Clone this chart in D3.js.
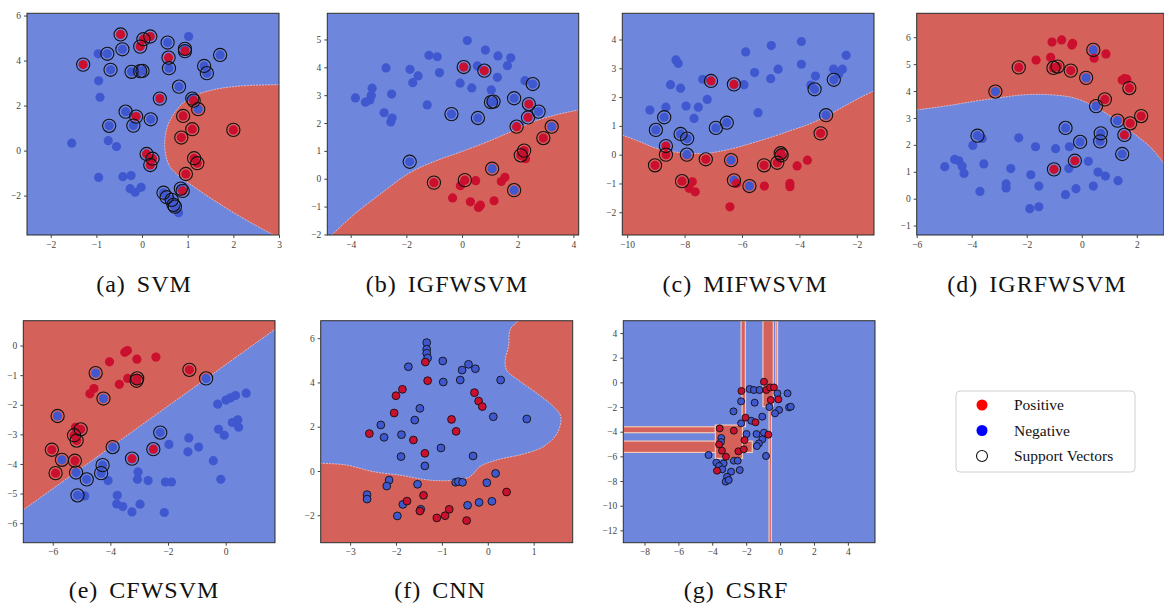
<!DOCTYPE html>
<html lang="en">
<head>
<meta charset="UTF-8">
<script src="https://d3js.org/d3.v7.min.js"></script>
<style>
  body { margin: 0; background: #fff; }
  svg { display: block; }
  .tick text { font-family: "Liberation Serif", serif; font-size: 9.5px; fill: #444; }
  .tick line { stroke: #444; }
  .caption { font-family: "Liberation Serif", serif; font-size: 24px; letter-spacing: 1px; word-spacing: 4px; fill: #111; }
  .legend text { font-family: "Liberation Serif", serif; font-size: 15.5px; fill: #111; }
</style>
</head>
<body>
<svg id="fig" width="1164" height="606"></svg>
<script>
// ---- data: [x, y, isSupportVector] ----
const aPos = [[-0.47,5.16,1],[0.03,4.95,1],[0.18,5.07,1],[-0.04,4.62,1],[0.94,4.42,1],[0.58,4.13,1],[-1.29,3.82,1],[0.39,2.31,1],[1.13,2.22,1],[-0.13,1.51,1],[0.9,1.54,1],[1.1,0.95,1],[2.0,0.92,1],[0.86,0.58,1],[0.1,-0.15,1],[0.23,-0.36,1],[0.18,-0.64,1],[1.14,-0.34,1],[1.21,-0.56,1],[0.96,-1.04,1],[0.89,-1.79,1]];
const aNeg = [[1.02,5.07,0],[0.56,4.8,1],[0.94,4.52,1],[-0.43,4.5,1],[-0.96,4.3,0],[-0.76,4.3,1],[1.71,4.25,1],[-0.69,3.59,1],[-0.23,3.5,1],[-0.04,3.53,1],[0.01,3.54,1],[0.59,3.66,1],[1.36,3.76,1],[1.42,3.44,1],[-0.95,3.1,0],[-0.92,2.37,0],[0.81,2.84,1],[1.1,2.31,1],[1.23,1.84,1],[-0.36,1.73,1],[0.19,1.39,1],[-0.72,1.1,1],[-0.19,1.11,1],[-1.54,0.33,0],[-0.74,0.44,0],[-0.56,0.18,0],[-0.95,-1.19,0],[-0.42,-1.16,0],[-0.24,-1.11,0],[-0.26,-1.69,0],[-0.15,-1.85,0],[-0.02,-1.63,0],[0.85,-1.69,1],[0.47,-1.87,1],[0.54,-2.07,1],[0.65,-2.19,1],[0.69,-2.41,1],[0.72,-2.49,1],[0.8,-2.76,0]];
const aEdge = [[3.0,2.93],[2.15,2.87],[1.56,2.7],[1.05,2.35],[0.76,1.81],[0.58,1.2],[0.5,0.5],[0.52,-0.2],[0.61,-0.71],[0.82,-1.15],[1.13,-1.6],[1.56,-2.19],[2.15,-2.93],[2.81,-3.67],[2.9,-3.75],[3.0,-3.75]];

const bPos = [[0.06,4.01,1],[0.8,3.88,1],[2.4,2.68,1],[2.37,2.2,1],[1.96,1.87,1],[2.92,1.46,1],[2.23,1.01,1],[2.11,0.84,1],[-1.01,-0.14,1],[0.1,-0.05,1],[2.28,0.72,0],[1.54,0.05,0],[1.41,-0.1,0],[0.49,-0.07,0],[-0.06,-0.25,0],[-0.34,-0.69,0],[0.3,-0.83,0],[0.66,-0.95,0],[0.59,-1.03,0],[1.15,-0.79,0]];
const bNeg = [[0.19,4.96,0],[0.84,4.62,0],[-1.19,4.43,0],[-0.89,4.38,0],[1.29,4.41,0],[1.75,4.34,0],[-2.73,3.98,0],[-1.87,3.93,0],[-0.81,3.81,0],[0.55,4.05,0],[1.63,4.06,0],[-1.58,3.69,0],[1.27,3.64,0],[2.26,3.52,0],[-1.77,3.45,0],[-0.07,3.43,0],[0.35,3.26,0],[-3.23,3.25,0],[-2.53,3.04,0],[1.05,3.19,0],[-3.83,2.9,0],[-3.26,2.99,0],[-3.31,2.83,0],[-3.47,2.75,0],[-1.25,2.65,0],[-2.8,2.37,0],[-2.51,2.18,0],[-2.56,2.04,0],[2.54,3.4,1],[1.87,2.89,1],[1.04,2.75,1],[1.13,2.77,1],[2.75,2.41,1],[-0.38,2.32,1],[0.57,2.18,1],[3.22,1.87,1],[-1.88,0.61,1],[1.08,0.36,1],[1.87,-0.41,1]];
const bEdge = [[-4.68,-2.02],[-3.9,-1.3],[-3.0,-0.6],[-1.9,0.2],[-1.0,0.62],[0.0,0.98],[0.77,1.27],[1.6,1.62],[2.56,2.05],[3.4,2.3],[4.19,2.47]];

const cPos = [[-7.08,2.56,1],[-6.28,2.44,1],[-8.65,0.3,1],[-8.65,0.0,1],[-9.03,-0.37,1],[-7.26,-0.16,1],[-8.09,-0.92,1],[-5.23,-0.37,1],[-4.77,-0.28,1],[-4.62,-0.02,1],[-4.65,0.05,1],[-3.26,0.74,1],[-7.73,-0.94,0],[-7.84,-1.17,0],[-7.63,-1.29,0],[-6.19,-1.0,0],[-5.22,-1.09,0],[-4.33,-1.0,0],[-4.33,-1.11,0],[-4.08,-0.39,0],[-3.72,-0.19,0],[-6.42,-1.81,0]];
const cNeg = [[-9.21,1.55,0],[-8.65,1.65,0],[-8.49,2.43,0],[-8.3,3.29,0],[-8.22,3.17,0],[-8.14,2.31,0],[-7.95,1.69,0],[-7.67,1.26,0],[-7.52,1.65,0],[-7.37,2.62,0],[-7.21,1.92,0],[-5.93,2.43,0],[-5.87,3.57,0],[-5.56,2.85,0],[-5.44,1.46,0],[-4.98,3.79,0],[-5.0,2.64,0],[-4.74,2.97,0],[-3.93,3.93,0],[-3.93,3.14,0],[-3.6,2.42,0],[-3.44,2.73,0],[-2.81,2.97,0],[-2.63,2.8,0],[-2.5,2.97,0],[-2.37,3.45,0],[-8.71,1.3,1],[-9.0,0.86,1],[-8.14,0.72,1],[-7.91,0.56,1],[-6.91,0.93,1],[-6.53,1.11,1],[-7.92,0.0,1],[-6.38,-0.19,1],[-6.28,-0.89,1],[-5.74,-1.09,1],[-3.47,2.27,1],[-2.8,2.6,1],[-3.07,1.37,1]];
const cEdge = [[-10.17,0.68],[-9.56,0.45],[-8.98,0.22],[-8.4,0.1],[-7.81,0.05],[-7.23,0.05],[-6.65,0.14],[-6.07,0.28],[-5.49,0.45],[-4.91,0.63],[-4.33,0.83],[-3.74,1.03],[-3.16,1.28],[-2.58,1.6],[-2.0,1.92],[-1.4,2.22]];

const dPos = [[-1.08,5.82,0],[-0.73,5.9,0],[-0.36,5.71,0],[-0.33,5.77,0],[-1.66,5.15,0],[-1.13,5.25,0],[0.45,5.22,0],[0.88,5.38,0],[1.47,4.41,0],[1.55,4.46,0],[1.64,4.44,0],[-2.29,4.88,1],[-1.03,4.86,1],[-0.88,4.91,1],[-0.4,4.76,1],[0.84,3.69,1],[1.73,4.11,1],[1.76,2.8,1],[2.16,3.07,1],[1.55,2.37,1],[-0.25,1.41,1],[-1.01,1.09,1]];
const dNeg = [[0.42,5.53,1],[0.16,4.49,1],[-3.14,3.98,1],[0.52,3.44,1],[-3.79,2.34,1],[-0.59,2.63,1],[1.3,2.9,1],[0.69,2.43,1],[0.67,2.13,1],[-0.06,2.11,1],[1.47,1.66,1],[-3.62,2.24,0],[-3.96,1.98,0],[-2.29,2.26,0],[-1.68,1.93,0],[-0.95,1.86,0],[-0.45,1.93,0],[-4.98,1.19,0],[-4.62,1.46,0],[-4.47,1.41,0],[-4.35,1.21,0],[-4.28,0.94,0],[-3.56,1.29,0],[-2.58,1.12,0],[-2.75,0.55,0],[-2.75,0.4,0],[-3.7,0.27,0],[-1.85,0.89,0],[-1.56,0.47,0],[-1.89,-0.37,0],[-1.56,-0.3,0],[-0.47,1.12,0],[-0.59,0.15,0],[-0.21,0.37,0],[0.24,1.39,0],[0.59,0.99,0],[0.86,0.84,0],[0.42,0.47,0],[1.32,0.67,0]];
const dEdge = [[-6.0,3.3],[-4.91,3.45],[-3.9,3.62],[-3.0,3.75],[-2.12,3.86],[-1.27,3.87],[-0.3,3.75],[0.42,3.45],[1.15,2.99],[1.88,2.43],[2.48,1.93],[2.99,1.31]];

const ePos = [[-4.03,-0.55,0],[-3.5,-0.23,0],[-3.41,-0.17,0],[-3.08,-0.46,0],[-2.42,-0.39,0],[-3.4,-1.11,0],[-3.69,-1.31,0],[-4.57,-1.45,0],[-4.71,-1.63,0],[-5.21,-2.76,0],[-1.26,-0.82,1],[-3.07,-1.11,1],[-3.09,-1.19,1],[-5.03,-2.83,1],[-5.26,-3.03,1],[-5.17,-3.21,1],[-6.03,-3.52,1],[-5.23,-3.89,1],[-5.9,-4.31,1],[-3.25,-3.82,1],[-2.51,-3.5,1]];
const eNeg = [[-4.51,-0.93,1],[-0.68,-1.11,1],[-4.24,-1.79,1],[-5.83,-2.38,1],[-5.68,-3.86,1],[-5.19,-4.29,1],[-4.82,-4.52,1],[-4.27,-4.04,1],[-4.32,-4.31,1],[-3.92,-3.43,1],[-2.27,-2.94,1],[-5.14,-5.06,1],[0.71,-1.61,0],[0.34,-1.69,0],[0.16,-1.77,0],[0.01,-1.84,0],[-0.28,-1.98,0],[0.23,-2.6,0],[0.42,-2.51,0],[0.45,-2.76,0],[-0.25,-2.83,0],[-0.05,-3.03,0],[-1.28,-3.12,0],[-0.94,-3.43,0],[-1.97,-3.34,0],[-1.31,-3.59,0],[-0.43,-3.89,0],[-3.04,-4.27,0],[-3.06,-4.52,0],[-2.69,-4.56,0],[-2.09,-4.61,0],[-1.88,-4.61,0],[-0.17,-4.52,0],[-4.08,-4.56,0],[-3.76,-5.06,0],[-4.89,-5.08,0],[-3.78,-5.35,0],[-3.57,-5.44,0],[-2.97,-5.36,0],[-3.25,-5.62,0],[-2.13,-5.64,0]];
const eEdge = [[-7.02,-5.55],[1.71,0.55]];

const fPos = [[-1.36,4.92],[-1.31,4.08],[-1.86,3.69],[-2.0,3.4],[-2.04,2.62],[-2.58,1.69],[-1.62,1.4],[-1.37,0.8],[-0.79,2.33],[-0.69,1.79],[-0.29,3.54],[-0.2,3.16],[-0.12,2.91],[-1.4,-1.1],[-1.76,-1.36],[-1.11,-2.12],[-0.93,-2.02],[-0.84,-1.73],[-1.48,-1.81],[-0.46,-2.24],[0.41,-0.95]];
const fNeg = [[-1.33,5.8],[-1.33,5.5],[-1.33,5.32],[-1.31,5.11],[-1.73,4.71],[-0.98,4.97],[-0.42,4.82],[-0.56,4.56],[-0.27,4.62],[-0.6,4.11],[-0.97,4.02],[0.28,4.11],[-1.48,2.83],[-1.59,2.3],[-2.33,2.08],[-2.26,1.52],[-1.88,1.64],[-1.89,0.65],[-1.02,1.04],[-1.37,0.23],[-0.32,0.68],[0.12,2.45],[0.85,2.35],[0.17,-0.11],[-0.02,-0.53],[-0.7,-0.51],[-0.64,-0.48],[-0.55,-0.51],[-2.15,-0.41],[-2.2,-0.68],[-2.63,-1.07],[-2.63,-1.27],[-1.53,-0.6],[-1.85,-1.51],[-1.46,-1.73],[-1.97,-2.03],[-0.44,-1.55],[-0.19,-1.42],[0.09,-1.37]];
const fEdge = [[0.67,6.79],[0.49,6.4],[0.45,5.62],[0.38,5.02],[0.41,4.56],[0.71,4.04],[1.07,3.51],[1.43,2.91],[1.59,2.45],[1.51,1.7],[1.21,1.1],[0.78,0.77],[0.2,0.5],[-0.17,0.2],[-0.39,-0.26],[-0.68,-0.41],[-1.04,-0.44],[-1.4,-0.38],[-1.84,-0.21],[-2.49,-0.03],[-3.08,0.27],[-3.64,0.35]];

const gPos = [[-0.95,0.05],[-2.28,-0.7],[-0.81,-0.62],[-0.59,-0.41],[-0.36,-0.41],[-0.55,-1.43],[-0.1,-1.38],[-2.04,-2.86],[-1.45,-3.24],[-3.56,-3.73],[-2.73,-3.92],[-2.1,-4.68],[-0.69,-4.24],[-3.6,-5.03],[-3.43,-5.54],[-3.19,-6.03],[-2.46,-5.59],[-2.14,-5.43],[-3.72,-7.16]];
const gNeg = [[-1.8,-0.54],[-1.54,-0.62],[-1.21,-0.62],[-0.16,-0.89],[0.44,-0.89],[-2.3,-1.54],[-1.5,-1.65],[-0.63,-2.0],[-0.06,-2.24],[-0.3,-2.51],[0.53,-2.03],[0.63,-1.97],[-2.75,-2.35],[-1.05,-2.78],[-2.3,-3.32],[-1.7,-3.11],[-1.98,-4.19],[-1.39,-4.19],[-1.05,-4.62],[-0.95,-4.08],[-1.25,-4.95],[-1.37,-5.16],[-0.83,-5.97],[-4.22,-5.89],[-3.47,-4.51],[-3.49,-4.84],[-3.33,-6.57],[-3.76,-6.51],[-3.6,-6.78],[-2.73,-6.35],[-2.5,-6.35],[-2.38,-7.11],[-2.89,-7.24],[-3.13,-7.65],[-3.21,-8.05],[-3.03,-7.92],[-3.41,-7.05]];
// red cells of the forest: [x0, x1, y0, y1]
const gCells = [[-2.3,-2.05,-1.0,5.0],[-2.24,-2.04,-3.6,-0.9],[-1.01,-0.4,-1.97,5.0],[-0.25,-0.15,-1.2,5.0],[-0.65,-0.51,-13.0,-2.0],[-9.25,-3.82,-4.08,-3.6],[-9.25,-1.64,-5.68,-4.76],[-3.82,-2.22,-6.16,-3.46]];

const aXTicks = [-2,-1,0,1,2,3],        aYTicks = [-2,0,2,4,6];
const bXTicks = [-4,-2,0,2,4],          bYTicks = [-2,-1,0,1,2,3,4,5];
const cXTicks = [-10,-8,-6,-4,-2],      cYTicks = [-2,-1,0,1,2,3,4];
const dXTicks = [-6,-4,-2,0,2],         dYTicks = [-1,0,1,2,3,4,5,6];
const eXTicks = [-6,-4,-2,0],           eYTicks = [-6,-5,-4,-3,-2,-1,0];
const fXTicks = [-3,-2,-1,0,1],         fYTicks = [-2,0,2,4,6];
const gXTicks = [-8,-6,-4,-2,0,2,4],    gYTicks = [-12,-10,-8,-6,-4,-2,0,2,4];

const captions = ["(a) SVM","(b) IGFWSVM","(c) MIFWSVM","(d) IGRFWSVM","(e) CFWSVM","(f) CNN","(g) CSRF"];
const legendLabels = ["Positive","Negative","Support Vectors"];

// ---- styling ----
const BLUE_BG = "#6f86dd", RED_BG = "#d5615b";
const RED_PT = "#cb0f2e", BLUE_PT = "#4058cf";
const fmt = d3.format("d");

const panels = [
  {box:[27,13.3,279,235],     xd:[-2.52,3.0],   yd:[-3.75,6.1],  xt:aXTicks, yt:aYTicks, base:BLUE_BG, fill:RED_BG,  edge:aEdge, close:[],         pos:aPos, neg:aNeg, sv:true,  cap:[144,292]},
  {box:[327.3,13.3,578.7,235],xd:[-4.84,4.19],  yd:[-2.02,5.94], xt:bXTicks, yt:bYTicks, base:BLUE_BG, fill:RED_BG,  edge:bEdge, close:["br"],     pos:bPos, neg:bNeg, sv:true,  cap:[447,292]},
  {box:[622.3,13.3,874,235],  xd:[-10.17,-1.4], yd:[-2.79,4.91], xt:cXTicks, yt:cYTicks, base:BLUE_BG, fill:RED_BG,  edge:cEdge, close:["br","bl"],pos:cPos, neg:cNeg, sv:true,  cap:[745,292]},
  {box:[916.7,13.3,1164,235], xd:[-6.0,2.99],   yd:[-1.35,6.89], xt:dXTicks, yt:dYTicks, base:BLUE_BG, fill:RED_BG,  edge:dEdge, close:["tr","tl"],pos:dPos, neg:dNeg, sv:true,  cap:[1037,292]},
  {box:[23.3,320.7,275,542.7],xd:[-7.02,1.71],  yd:[-6.66,0.84], xt:eXTicks, yt:eYTicks, base:BLUE_BG, fill:RED_BG,  edge:eEdge, close:["tr","tl"],pos:ePos, neg:eNeg, sv:true,  cap:[144,598]},
  {box:[320.7,320.7,572.7,542.7],xd:[-3.64,1.85],yd:[-3.24,6.79],xt:fXTicks, yt:fYTicks, base:RED_BG,  fill:BLUE_BG, edge:fEdge, close:["tl"],     pos:fPos, neg:fNeg, sv:false, cap:[440,598]},
  {box:[623.3,320.7,875,542.7],xd:[-9.25,5.6],  yd:[-13.0,5.0],  xt:gXTicks, yt:gYTicks, base:BLUE_BG, cells:gCells,                        pos:gPos, neg:gNeg, sv:false, cap:[736,598]}
];

const svg = d3.select("#fig");

panels.forEach((p, i) => {
  const [l, t, r, b] = p.box;
  const x = d3.scaleLinear().domain(p.xd).range([l, r]);
  const y = d3.scaleLinear().domain(p.yd).range([b, t]);
  const g = svg.append("g");

  g.append("clipPath").attr("id", "clip" + i)
    .append("rect").attr("x", l).attr("y", t).attr("width", r - l).attr("height", b - t);
  const plot = g.append("g").attr("clip-path", `url(#clip${i})`);

  plot.append("rect").attr("x", l).attr("y", t).attr("width", r - l).attr("height", b - t)
    .attr("fill", p.base);

  if (p.edge) {
    const corner = {tl:[p.xd[0],p.yd[1]], tr:[p.xd[1],p.yd[1]], bl:[p.xd[0],p.yd[0]], br:[p.xd[1],p.yd[0]]};
    const curve = d3.line().x(d => x(d[0])).y(d => y(d[1])).curve(d3.curveCatmullRom);
    let dpath = curve(p.edge);
    p.close.forEach(k => { dpath += `L${x(corner[k][0])},${y(corner[k][1])}`; });
    plot.append("path").attr("d", dpath + "Z").attr("fill", p.fill);
    // faint light seam where the two regions meet
    plot.append("path").attr("d", curve(p.edge))
      .attr("fill", "none").attr("stroke", "#f4e4e8").attr("stroke-width", 0.8)
      .attr("stroke-dasharray", "2,1").attr("opacity", 0.8);
  }

  if (p.cells) {
    plot.selectAll("rect.cell").data(p.cells).enter().append("rect")
      .attr("class", "cell")
      .attr("x", d => x(d[0])).attr("width", d => x(d[1]) - x(d[0]))
      .attr("y", d => y(d[3])).attr("height", d => y(d[2]) - y(d[3]))
      .attr("fill", RED_BG).attr("stroke", "#f3c9ba").attr("stroke-width", 1.2);
  }

  const all = p.neg.map(d => ({d, c: BLUE_PT})).concat(p.pos.map(d => ({d, c: RED_PT})));
  if (p.sv) {
    plot.selectAll("circle.pt").data(all).enter().append("circle")
      .attr("class", "pt")
      .attr("cx", o => x(o.d[0])).attr("cy", o => y(o.d[1])).attr("r", 4.6)
      .attr("fill", o => o.c);
    plot.selectAll("circle.sv").data(all.filter(o => o.d[2] === 1)).enter().append("circle")
      .attr("class", "sv")
      .attr("cx", o => x(o.d[0])).attr("cy", o => y(o.d[1])).attr("r", 6.6)
      .attr("fill", "none").attr("stroke", "#111").attr("stroke-width", 1.1);
  } else {
    plot.selectAll("circle.pt").data(all).enter().append("circle")
      .attr("class", "pt")
      .attr("cx", o => x(o.d[0])).attr("cy", o => y(o.d[1])).attr("r", i === 6 ? 3.5 : 3.9)
      .attr("fill", o => o.c).attr("stroke", "#111").attr("stroke-width", 0.9);
  }

  g.append("rect").attr("x", l).attr("y", t).attr("width", r - l).attr("height", b - t)
    .attr("fill", "none").attr("stroke", "#2a2a2a").attr("stroke-width", 1);

  const xa = g.append("g").attr("transform", `translate(0,${b})`)
    .call(d3.axisBottom(x).tickValues(p.xt).tickFormat(fmt).tickSize(3).tickPadding(3));
  const ya = g.append("g").attr("transform", `translate(${l},0)`)
    .call(d3.axisLeft(y).tickValues(p.yt).tickFormat(fmt).tickSize(3).tickPadding(3));
  xa.select(".domain").remove();
  ya.select(".domain").remove();

  svg.append("text").attr("class", "caption")
    .attr("x", p.cap[0]).attr("y", p.cap[1]).attr("text-anchor", "middle")
    .text(captions[i]);
});

// legend
const lg = svg.append("g").attr("class", "legend");
lg.append("rect").attr("x", 956).attr("y", 391).attr("width", 179).attr("height", 81)
  .attr("rx", 4).attr("fill", "#fff").attr("stroke", "#d0d0d0");
const legendMarks = [{fill: "#ff0000", stroke: "none"}, {fill: "#0000ff", stroke: "none"}, {fill: "none", stroke: "#111"}];
legendLabels.forEach((lab, k) => {
  const cy = 405 + k * 25.5;
  lg.append("circle").attr("cx", 982).attr("cy", cy).attr("r", 5.5)
    .attr("fill", legendMarks[k].fill).attr("stroke", legendMarks[k].stroke).attr("stroke-width", 1.1);
  lg.append("text").attr("x", 1014).attr("y", cy + 5).text(lab);
});
</script>
</body>
</html>
